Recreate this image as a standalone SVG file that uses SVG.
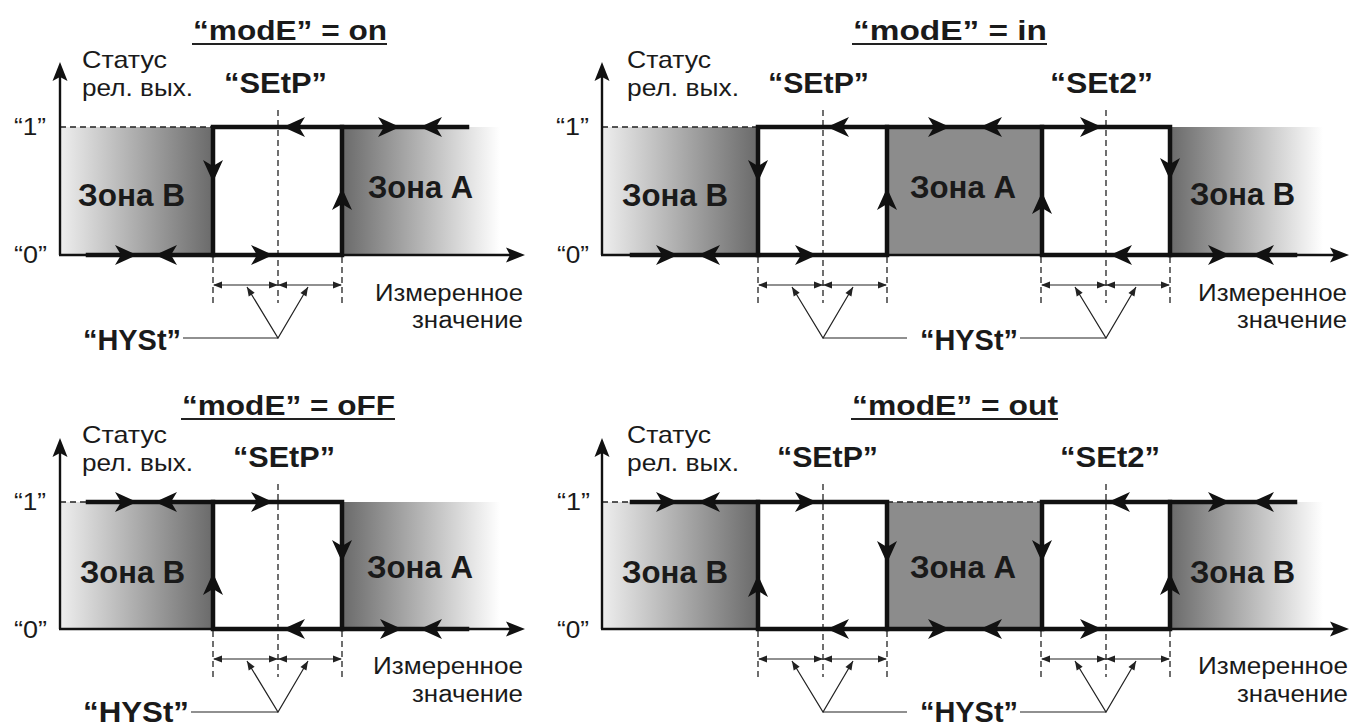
<svg xmlns="http://www.w3.org/2000/svg" xmlns:xlink="http://www.w3.org/1999/xlink" width="1352" height="726" viewBox="0 0 1352 726">
<style>
.ax{stroke:#111;stroke-width:2.4;fill:none}
.th{stroke:#111;stroke-width:4.5;fill:none;stroke-linejoin:miter;stroke-linecap:square}
.ds{stroke:#222;stroke-width:1.3;fill:none;stroke-dasharray:6 4}
.tn{stroke:#222;stroke-width:1.2;fill:none}
.ul{stroke:#222;stroke-width:2;fill:none}
text{font-family:"Liberation Sans",Arial,sans-serif;fill:#1a1a1a}
.ttl{font-weight:bold;font-size:27px}
.lb{font-size:24px}
.sp{font-weight:bold;font-size:30px}
.zn{font-weight:bold;font-size:31px}
.hy{font-weight:bold;font-size:30px}
.ms{font-size:23px}
.lv{font-size:23px}
</style>
<defs>
<linearGradient id="gB" x1="0" y1="0" x2="1" y2="0"><stop offset="0" stop-color="#eeeeee"/><stop offset="1" stop-color="#6a6a6a"/></linearGradient>
<linearGradient id="gA" x1="0" y1="0" x2="1" y2="0"><stop offset="0" stop-color="#6a6a6a"/><stop offset="1" stop-color="#ffffff"/></linearGradient>
<path id="ah" d="M0,0 L-22,-10 L-16,0 L-22,10 Z" fill="#111"/>
<path id="axh" d="M0,0 L-19,-7.5 L-15,0 L-19,7.5 Z" fill="#111"/>
<path id="sa" d="M0,0 L-9,-3.5 L-9,3.5 Z" fill="#222"/>
<g id="hyu">
<line class="ds" x1="0" y1="2" x2="0" y2="48"/>
<line class="ds" x1="129" y1="2" x2="129" y2="48"/>
<line class="ds" x1="65" y1="-145" x2="65" y2="48"/>
<line class="tn" x1="1" y1="30" x2="128" y2="30"/>
<use xlink:href="#sa" transform="translate(0,30) rotate(180)"/>
<use xlink:href="#sa" transform="translate(65,30)"/>
<use xlink:href="#sa" transform="translate(65,30) rotate(180)"/>
<use xlink:href="#sa" transform="translate(129,30)"/>
<polyline class="tn" points="34,32 65,83 95,32"/>
<use xlink:href="#sa" transform="translate(34,32) rotate(-121.3)"/>
<use xlink:href="#sa" transform="translate(95,32) rotate(-59.5)"/>
</g>
</defs>
<rect x="0" y="0" width="1352" height="726" fill="#ffffff"/>

<!-- Panel 1: on -->
<g id="panel-on">
<rect x="60" y="127" width="153" height="128" fill="url(#gB)"/>
<rect x="342" y="127" width="158" height="128" fill="url(#gA)"/>
<line class="ds" x1="60" y1="127" x2="213" y2="127"/>
<text class="ttl" x="193" y="40" textLength="194" lengthAdjust="spacingAndGlyphs">“modE” = on</text>
<line class="ul" x1="192" y1="44" x2="387" y2="44"/>
<text class="lb" x="82" y="68" textLength="85" lengthAdjust="spacingAndGlyphs">Статус</text>
<text class="lb" x="82" y="96" textLength="111" lengthAdjust="spacingAndGlyphs">рел. вых.</text>
<text class="sp" x="224" y="93" textLength="103" lengthAdjust="spacingAndGlyphs">“SEtP”</text>
<text class="lv" x="14" y="135" textLength="32" lengthAdjust="spacingAndGlyphs">“1”</text>
<text class="lv" x="14" y="263" textLength="33" lengthAdjust="spacingAndGlyphs">“0”</text>
<text class="zn" x="78" y="206" textLength="107" lengthAdjust="spacingAndGlyphs">Зона B</text>
<text class="zn" x="368" y="198" textLength="105" lengthAdjust="spacingAndGlyphs">Зона A</text>
<text class="ms" x="375" y="301" textLength="148" lengthAdjust="spacingAndGlyphs">Измеренное</text>
<text class="ms" x="412" y="328" textLength="111" lengthAdjust="spacingAndGlyphs">значение</text>
<text class="hy" x="83" y="350" textLength="98" lengthAdjust="spacingAndGlyphs">“HYSt”</text>
</g>

<!-- Panel 2: in -->
<g id="panel-in">
<rect x="602" y="127" width="156" height="128" fill="url(#gB)"/>
<rect x="887" y="127" width="155" height="128" fill="#8c8c8c"/>
<rect x="1170" y="127" width="153" height="128" fill="url(#gA)"/>
<line class="ds" x1="602" y1="127" x2="758" y2="127"/>
<text class="ttl" x="853" y="40" textLength="194" lengthAdjust="spacingAndGlyphs">“modE” = in</text>
<line class="ul" x1="852" y1="44" x2="1047" y2="44"/>
<text class="lb" x="627" y="68" textLength="84" lengthAdjust="spacingAndGlyphs">Статус</text>
<text class="lb" x="627" y="96" textLength="112" lengthAdjust="spacingAndGlyphs">рел. вых.</text>
<text class="sp" x="768" y="93" textLength="101" lengthAdjust="spacingAndGlyphs">“SEtP”</text>
<text class="sp" x="1050" y="93" textLength="103" lengthAdjust="spacingAndGlyphs">“SEt2”</text>
<text class="lv" x="556" y="135" textLength="33" lengthAdjust="spacingAndGlyphs">“1”</text>
<text class="lv" x="557" y="263" textLength="32" lengthAdjust="spacingAndGlyphs">“0”</text>
<text class="zn" x="622" y="206" textLength="106" lengthAdjust="spacingAndGlyphs">Зона B</text>
<text class="zn" x="910" y="198" textLength="106" lengthAdjust="spacingAndGlyphs">Зона A</text>
<text class="zn" x="1190" y="205" textLength="105" lengthAdjust="spacingAndGlyphs">Зона B</text>
<text class="ms" x="1198" y="301" textLength="149" lengthAdjust="spacingAndGlyphs">Измеренное</text>
<text class="ms" x="1237" y="328" textLength="110" lengthAdjust="spacingAndGlyphs">значение</text>
<text class="hy" x="920" y="350" textLength="98" lengthAdjust="spacingAndGlyphs">“HYSt”</text>
</g>

<!-- Panel 3: oFF -->
<g id="panel-off">
<rect x="60" y="502" width="153" height="127" fill="url(#gB)"/>
<rect x="342" y="502" width="158" height="127" fill="url(#gA)"/>
<line class="ds" x1="60" y1="502" x2="88" y2="502"/>
<text class="ttl" x="182" y="415" textLength="213" lengthAdjust="spacingAndGlyphs">“modE” = oFF</text>
<line class="ul" x1="181" y1="419" x2="395" y2="419"/>
<text class="lb" x="82" y="443" textLength="85" lengthAdjust="spacingAndGlyphs">Статус</text>
<text class="lb" x="82" y="471" textLength="111" lengthAdjust="spacingAndGlyphs">рел. вых.</text>
<text class="sp" x="233" y="467" textLength="102" lengthAdjust="spacingAndGlyphs">“SEtP”</text>
<text class="lv" x="14" y="510" textLength="32" lengthAdjust="spacingAndGlyphs">“1”</text>
<text class="lv" x="14" y="638" textLength="33" lengthAdjust="spacingAndGlyphs">“0”</text>
<text class="zn" x="80" y="583" textLength="105" lengthAdjust="spacingAndGlyphs">Зона B</text>
<text class="zn" x="367" y="578" textLength="106" lengthAdjust="spacingAndGlyphs">Зона A</text>
<text class="ms" x="373" y="674" textLength="150" lengthAdjust="spacingAndGlyphs">Измеренное</text>
<text class="ms" x="412" y="702" textLength="111" lengthAdjust="spacingAndGlyphs">значение</text>
<text class="hy" x="83" y="722" textLength="106" lengthAdjust="spacingAndGlyphs">“HYSt”</text>
</g>

<!-- Panel 4: out -->
<g id="panel-out">
<rect x="602" y="502" width="156" height="127" fill="url(#gB)"/>
<rect x="887" y="502" width="155" height="127" fill="#8c8c8c"/>
<rect x="1170" y="502" width="153" height="127" fill="url(#gA)"/>
<line class="ds" x1="602" y1="502" x2="632" y2="502"/>
<line class="ds" x1="887" y1="502" x2="1042" y2="502"/>
<text class="ttl" x="852" y="415" textLength="206" lengthAdjust="spacingAndGlyphs">“modE” = out</text>
<line class="ul" x1="851" y1="419" x2="1058" y2="419"/>
<text class="lb" x="627" y="443" textLength="84" lengthAdjust="spacingAndGlyphs">Статус</text>
<text class="lb" x="627" y="471" textLength="112" lengthAdjust="spacingAndGlyphs">рел. вых.</text>
<text class="sp" x="777" y="467" textLength="101" lengthAdjust="spacingAndGlyphs">“SEtP”</text>
<text class="sp" x="1060" y="467" textLength="100" lengthAdjust="spacingAndGlyphs">“SEt2”</text>
<text class="lv" x="557" y="510" textLength="33" lengthAdjust="spacingAndGlyphs">“1”</text>
<text class="lv" x="557" y="638" textLength="32" lengthAdjust="spacingAndGlyphs">“0”</text>
<text class="zn" x="622" y="583" textLength="106" lengthAdjust="spacingAndGlyphs">Зона B</text>
<text class="zn" x="910" y="578" textLength="106" lengthAdjust="spacingAndGlyphs">Зона A</text>
<text class="zn" x="1190" y="583" textLength="105" lengthAdjust="spacingAndGlyphs">Зона B</text>
<text class="ms" x="1198" y="674" textLength="150" lengthAdjust="spacingAndGlyphs">Измеренное</text>
<text class="ms" x="1237" y="702" textLength="111" lengthAdjust="spacingAndGlyphs">значение</text>
<text class="hy" x="920" y="722" textLength="98" lengthAdjust="spacingAndGlyphs">“HYSt”</text>
</g>

<g id="connectors">
<!-- axes -->
<line class="ax" x1="60" y1="255" x2="60" y2="76"/><use xlink:href="#axh" transform="translate(60,62) rotate(-90)"/>
<line class="ax" x1="59" y1="255" x2="512" y2="255"/><use xlink:href="#axh" transform="translate(525,255)"/>
<line class="ax" x1="602" y1="255" x2="602" y2="76"/><use xlink:href="#axh" transform="translate(602,62) rotate(-90)"/>
<line class="ax" x1="601" y1="255" x2="1336" y2="255"/><use xlink:href="#axh" transform="translate(1349,255)"/>
<line class="ax" x1="60" y1="629" x2="60" y2="452"/><use xlink:href="#axh" transform="translate(60,438) rotate(-90)"/>
<line class="ax" x1="59" y1="629" x2="512" y2="629"/><use xlink:href="#axh" transform="translate(525,629)"/>
<line class="ax" x1="602" y1="629" x2="602" y2="452"/><use xlink:href="#axh" transform="translate(602,438) rotate(-90)"/>
<line class="ax" x1="601" y1="629" x2="1336" y2="629"/><use xlink:href="#axh" transform="translate(1349,629)"/>

<!-- hysteresis dimensions and setpoint lines -->
<use xlink:href="#hyu" transform="translate(213,255)"/>
<use xlink:href="#hyu" transform="translate(758,255)"/>
<use xlink:href="#hyu" transform="translate(1041,255)"/>
<use xlink:href="#hyu" transform="translate(213,629)"/>
<use xlink:href="#hyu" transform="translate(758,629)"/>
<use xlink:href="#hyu" transform="translate(1041,629)"/>
<line class="tn" x1="183" y1="338" x2="278" y2="338"/>
<line class="tn" x1="823" y1="338" x2="907" y2="338"/>
<line class="tn" x1="1020" y1="338" x2="1106" y2="338"/>
<line class="tn" x1="191" y1="712" x2="278" y2="712"/>
<line class="tn" x1="823" y1="712" x2="907" y2="712"/>
<line class="tn" x1="1020" y1="712" x2="1106" y2="712"/>

<!-- relay characteristics -->
<path class="th" d="M88,255 H342 V127"/>
<path class="th" d="M467,127 H213 V255"/>

<path class="th" d="M632,255 H887 V127"/>
<path class="th" d="M758,255 V127 H1170 V255"/>
<path class="th" d="M1042,127 V255 H1295"/>

<path class="th" d="M88,502 H342 V629"/>
<path class="th" d="M467,629 H213 V502"/>

<path class="th" d="M632,502 H887 V629"/>
<path class="th" d="M758,502 V629 H1170 V502"/>
<path class="th" d="M1042,629 V502 H1295"/>

<!-- direction arrows: panel on -->
<use xlink:href="#ah" transform="translate(283,127) rotate(180)"/>
<use xlink:href="#ah" transform="translate(400,127)"/>
<use xlink:href="#ah" transform="translate(420,127) rotate(180)"/>
<use xlink:href="#ah" transform="translate(137,255)"/>
<use xlink:href="#ah" transform="translate(155,255) rotate(180)"/>
<use xlink:href="#ah" transform="translate(273,255)"/>
<use xlink:href="#ah" transform="translate(213,182) rotate(90)"/>
<use xlink:href="#ah" transform="translate(342,188) rotate(-90)"/>
<!-- panel in -->
<use xlink:href="#ah" transform="translate(827,127) rotate(180)"/>
<use xlink:href="#ah" transform="translate(950,127)"/>
<use xlink:href="#ah" transform="translate(980,127) rotate(180)"/>
<use xlink:href="#ah" transform="translate(1102,127)"/>
<use xlink:href="#ah" transform="translate(678,255)"/>
<use xlink:href="#ah" transform="translate(698,255) rotate(180)"/>
<use xlink:href="#ah" transform="translate(817,255)"/>
<use xlink:href="#ah" transform="translate(1110,255) rotate(180)"/>
<use xlink:href="#ah" transform="translate(1230,255)"/>
<use xlink:href="#ah" transform="translate(1252,255) rotate(180)"/>
<use xlink:href="#ah" transform="translate(758,182) rotate(90)"/>
<use xlink:href="#ah" transform="translate(887,188) rotate(-90)"/>
<use xlink:href="#ah" transform="translate(1042,192) rotate(-90)"/>
<use xlink:href="#ah" transform="translate(1170,180) rotate(90)"/>
<!-- panel oFF -->
<use xlink:href="#ah" transform="translate(137,502)"/>
<use xlink:href="#ah" transform="translate(155,502) rotate(180)"/>
<use xlink:href="#ah" transform="translate(273,502)"/>
<use xlink:href="#ah" transform="translate(283,629) rotate(180)"/>
<use xlink:href="#ah" transform="translate(402,629)"/>
<use xlink:href="#ah" transform="translate(420,629) rotate(180)"/>
<use xlink:href="#ah" transform="translate(213,573) rotate(-90)"/>
<use xlink:href="#ah" transform="translate(342,562) rotate(90)"/>
<!-- panel out -->
<use xlink:href="#ah" transform="translate(678,502)"/>
<use xlink:href="#ah" transform="translate(698,502) rotate(180)"/>
<use xlink:href="#ah" transform="translate(817,502)"/>
<use xlink:href="#ah" transform="translate(1108,502) rotate(180)"/>
<use xlink:href="#ah" transform="translate(1230,502)"/>
<use xlink:href="#ah" transform="translate(1252,502) rotate(180)"/>
<use xlink:href="#ah" transform="translate(827,629) rotate(180)"/>
<use xlink:href="#ah" transform="translate(950,629)"/>
<use xlink:href="#ah" transform="translate(980,629) rotate(180)"/>
<use xlink:href="#ah" transform="translate(1102,629)"/>
<use xlink:href="#ah" transform="translate(758,575) rotate(-90)"/>
<use xlink:href="#ah" transform="translate(887,563) rotate(90)"/>
<use xlink:href="#ah" transform="translate(1042,562) rotate(90)"/>
<use xlink:href="#ah" transform="translate(1170,573) rotate(-90)"/>
</g>
</svg>
